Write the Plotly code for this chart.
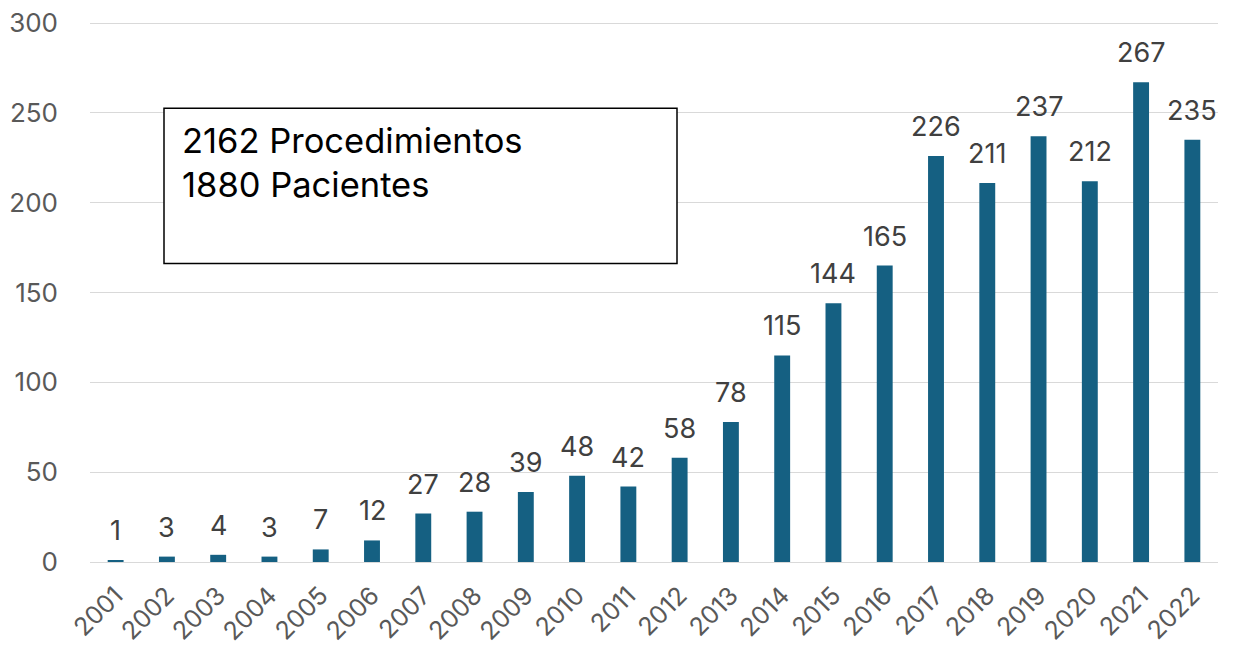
import plotly.graph_objects as go

years = [str(y) for y in range(2001, 2023)]
values = [1, 3, 4, 3, 7, 12, 27, 28, 39, 48, 42, 58, 78, 115, 144, 165, 226, 211, 237, 212, 267, 235]
y_ticks = [0, 50, 100, 150, 200, 250, 300]
box_lines = ["2162 Procedimientos", "1880 Pacientes"]

FONT = "Inter"
BAR = "#156082"

fig = go.Figure()
fig.add_trace(go.Bar(x=years, y=values, marker=dict(color=BAR, line=dict(width=0)),
                     width=0.31, hoverinfo="x+y"))

for i, v in enumerate(values):
    fig.add_annotation(x=i, y=v, text=str(v), showarrow=False, yanchor="bottom",
                       yshift=11, font=dict(family=FONT, size=27, color="#404040"))

fig.add_shape(type="rect", xref="paper", yref="paper",
              x0=(164 - 90) / 1128, x1=(677 - 90) / 1128,
              y0=(562 - 264) / 539, y1=(562 - 109) / 539,
              line=dict(color="black", width=1.5), fillcolor="white", layer="above")

for i, t in enumerate(box_lines):
    fig.add_annotation(xref="paper", yref="paper", x=(180 - 90) / 1128,
                       y=(562 - (141 + 44 * i)) / 539, text=t, showarrow=False,
                       xanchor="left", yanchor="middle",
                       font=dict(family=FONT, size=34.5, color="black"))

fig.update_layout(
    width=1235, height=649,
    margin=dict(l=82, r=25, t=14, b=95, autoexpand=False),
    paper_bgcolor="white", plot_bgcolor="white",
    showlegend=False,
    font=dict(family=FONT),
)
fig.update_xaxes(type="category", range=[-0.5, len(years) - 0.5], autorange=False,
                 tickangle=-45, showgrid=False, showline=False,
                 tickfont=dict(family=FONT, size=25, color="#595959"),
                 ticklabelstandoff=13, ticklabeloverflow="allow", automargin=False)
fig.update_yaxes(range=[0, 300.6], autorange=False, tickvals=y_ticks, showgrid=True, gridcolor="#D9D9D9",
                 gridwidth=1.3, zeroline=True, zerolinecolor="#D9D9D9", zerolinewidth=1.3,
                 showline=False, tickfont=dict(family=FONT, size=26, color="#595959"),
                 ticklabelstandoff=31, ticklabeloverflow="allow", automargin=False)

fig.write_html("out.html")
